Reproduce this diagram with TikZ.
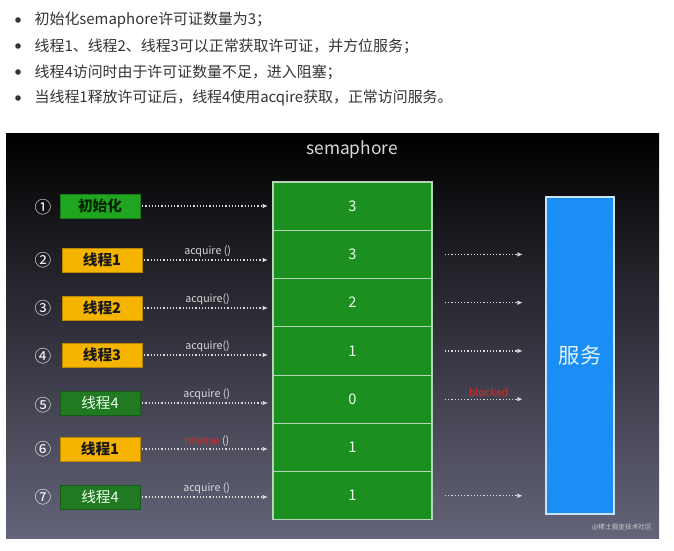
\documentclass[tikz,border=0pt]{standalone}
\usepackage{fontspec}
\setmainfont{Noto Sans CJK SC}
\usepackage{xcolor}
\usetikzlibrary{arrows.meta, positioning}
\definecolor{ctexto}{HTML}{333333}
\definecolor{cmedio}{HTML}{1C1C2E}
\definecolor{cfondo}{HTML}{64647A}
\definecolor{cinicio}{HTML}{1FA51F}
\definecolor{camarillo}{HTML}{F5B400}
\definecolor{cbosque}{HTML}{1F7A22}
\definecolor{ccelda}{HTML}{1B8F20}
\definecolor{cborde}{HTML}{B8D4B8}
\definecolor{cazul}{HTML}{1A8EF5}
\definecolor{crojo}{HTML}{E02828}
\tikzset{
  punto/.style={circle, fill=ctexto, inner sep=0pt, minimum size=4.2pt},
  linea/.style={anchor=west, inner sep=0pt, text=ctexto, font=\fontsize{11.2}{13}\selectfont},
  caja/.style={rectangle, fill=#1, draw=#1!75!black, line width=0.4pt, minimum width=60pt,
               minimum height=18pt, inner sep=0pt, font=\fontsize{11}{13}\selectfont\bfseries},
  cajaosc/.style={caja=cbosque, text=green!6!white, font=\fontsize{11}{13}\selectfont},
  celda/.style={rectangle, fill=ccelda, draw=cborde, line width=0.8pt, outer sep=0pt,
                minimum width=119.25pt, minimum height=36.2pt, inner sep=0pt,
                text=green!8!white, font=\fontsize{11}{13}\selectfont},
  num/.style={text=white, font=\fontsize{12.5}{14}\selectfont},
  flecha/.style={-{Latex[length=1.4mm, width=1.2mm]}, dash pattern=on 0.9pt off 1.5pt,
                 line width=0.9pt, draw=white!85!black, shorten <=1.5pt, shorten >=3.75pt},
  etiqueta/.style={inner sep=1.5pt, text=white!85!black, font=\fontsize{8}{9}\selectfont},
}
\begin{document}
\begin{tikzpicture}[x=0.75pt, y=-0.75pt]
\useasboundingbox (0,0) rectangle (674,550);
% lista de arriba
\node[punto] (p1) at (18,20) {};
\node[linea, right=10pt of p1] (l1) {初始化semaphore许可证数量为3；};
\node[punto] (p2) at (18,46) {};
\node[linea, right=10pt of p2] (l2) {线程1、线程2、线程3可以正常获取许可证，并方位服务；};
\node[punto] (p3) at (18,72) {};
\node[linea, right=10pt of p3] (l3) {线程4访问时由于许可证数量不足，进入阻塞；};
\node[punto] (p4) at (18,98) {};
\node[linea, right=10pt of p4] (l4) {当线程1释放许可证后，线程4使用acqire获取，正常访问服务。};
% fondo
\shade[top color=black, middle color=cmedio, bottom color=cfondo] (6,133) rectangle (659,538);
\node[text=white!85!black, font=\fontsize{13}{15}\selectfont] (sem) at (352,150) {semaphore};
% columna del semaforo
\node[celda, anchor=north] (s1) at (352.5,182) {3};
\node[celda, below=0pt of s1] (s2) {3};
\node[celda, below=0pt of s2] (s3) {2};
\node[celda, below=0pt of s3] (s4) {1};
\node[celda, below=0pt of s4] (s5) {0};
\node[celda, below=0pt of s5] (s6) {1};
\node[celda, below=0pt of s6] (s7) {1};
\node[rectangle, fill=cazul, draw=white!75!cazul, line width=0.8pt, minimum width=51pt,
      minimum height=237.75pt, text=white!88!cazul, font=\fontsize{16}{19}\selectfont]
      (srv) at (580,355.5) {服务};
% hilos
\node[num] (n1) at (43,207) {①};
\node[caja=cinicio, text=black!85!green] (b1) at (100,206) {初始化};
\node[num] (n2) at (43,260) {②};
\node[caja=camarillo, text=black!90] (b2) at (102,260) {线程1};
\node[num] (n3) at (43,308) {③};
\node[caja=camarillo, text=black!90] (b3) at (102,308) {线程2};
\node[num] (n4) at (43,356) {④};
\node[caja=camarillo, text=black!90] (b4) at (102,355) {线程3};
\node[num] (n5) at (43,405) {⑤};
\node[cajaosc] (b5) at (100,403) {线程4};
\node[num] (n6) at (43,449) {⑥};
\node[caja=camarillo, text=black!90] (b6) at (100,449) {线程1};
\node[num] (n7) at (43,497) {⑦};
\node[cajaosc] (b7) at (100,497) {线程4};
\draw[flecha] (b1) -- (b1 -| s1.west);
\draw[flecha] (b2) -- node[etiqueta, above] {acquire ()} (b2 -| s1.west);
\draw[flecha] (b3) -- node[etiqueta, above] {acquire()} (b3 -| s1.west);
\draw[flecha] (b4) -- node[etiqueta, above] {acquire()} (b4 -| s1.west);
\draw[flecha] (b5) -- node[etiqueta, above] {acquire ()} (b5 -| s1.west);
\draw[flecha] (b6) -- node[etiqueta, above] {\textcolor{crojo}{release} ()} (b6 -| s1.west);
\draw[flecha] (b7) -- node[etiqueta, above] {acquire ()} (b7 -| s1.west);
% hacia el servicio
\draw[flecha, shorten <=9.75pt, shorten >=17pt] (s2) -- (s2 -| srv.west);
\draw[flecha, shorten <=9.75pt, shorten >=17pt] (s3) -- (s3 -| srv.west);
\draw[flecha, shorten <=9.75pt, shorten >=17pt] (s4) -- (s4 -| srv.west);
\draw[flecha, shorten <=9.75pt, shorten >=17pt] (s5) -- node[etiqueta, above, text=crojo] {blocked} (s5 -| srv.west);
\draw[flecha, shorten <=9.75pt, shorten >=17pt] (s7) -- (s7 -| srv.west);
\node[text=white!60!gray, font=\fontsize{5}{6}\selectfont] (wm) at (622,527) {@稀土掘金技术社区};
\end{tikzpicture}
\end{document}
